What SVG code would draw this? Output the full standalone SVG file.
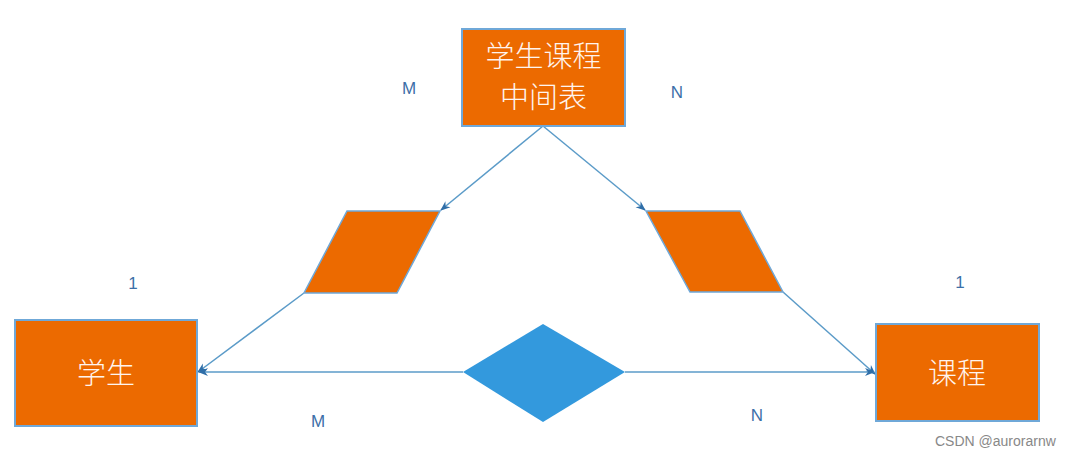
<svg xmlns="http://www.w3.org/2000/svg" width="1070" height="457" viewBox="0 0 1070 457">
<style>
.box{fill:#ec6a00;stroke:#6fa8d8;stroke-width:2}
.para{fill:#ec6a00;stroke:#6fa8d8;stroke-width:1.5}
.dia{fill:#3399dd}
.conn{stroke:#5b9bc8;stroke-width:1.5;fill:none;marker-end:url(#ah)}
.t{font-family:"Noto Sans CJK SC","Noto Sans",sans-serif;font-size:29px;font-weight:300;fill:#fff4ee;text-anchor:middle}
.lbl{font-family:"Liberation Sans",Arial,sans-serif;font-size:17px;fill:#3d6fa8;text-anchor:middle}
.wm{font-family:"Liberation Sans",Arial,sans-serif;font-size:14px;fill:#888888}
</style>
<defs>
<marker id="ah" viewBox="0 0 10 10" refX="9" refY="5" markerWidth="10" markerHeight="10" orient="auto" markerUnits="userSpaceOnUse">
<path d="M0,1 L10,5 L0,9 L3,5 Z" fill="#2f6ea8"/>
</marker>
</defs>
<rect width="1070" height="457" fill="#ffffff"/>
<g id="connectors">
<line class="conn" x1="543" y1="126" x2="441" y2="210"/>
<line class="conn" x1="543" y1="126" x2="645" y2="210"/>
<line class="conn" x1="304" y1="293" x2="198" y2="372"/>
<line class="conn" x1="783" y1="292" x2="875" y2="374"/>
<line class="conn" x1="463" y1="372" x2="199" y2="372"/>
<line class="conn" x1="625" y1="372" x2="874" y2="372"/>
</g>
<g id="node-middle">
<rect class="box" x="462" y="29" width="163" height="97"/>
<text class="t" x="543.5" y="67">学生课程</text>
<text class="t" x="543.5" y="108">中间表</text>
</g>
<g id="node-para-left">
<polygon class="para" points="347,211 440,211 397,293 304,293"/>
</g>
<g id="node-para-right">
<polygon class="para" points="646,211 740,211 783,292 690,292"/>
</g>
<g id="node-student">
<rect class="box" x="15" y="320" width="182" height="106"/>
<text class="t" x="106" y="384">学生</text>
</g>
<g id="node-course">
<rect class="box" x="876" y="324" width="163" height="97"/>
<text class="t" x="957" y="384">课程</text>
</g>
<g id="node-diamond">
<polygon class="dia" points="463,372 543,324 625,372 543,422"/>
</g>
<g id="labels">
<text class="lbl" x="409" y="94">M</text>
<text class="lbl" x="677" y="98">N</text>
<text class="lbl" x="133" y="289">1</text>
<text class="lbl" x="960" y="288">1</text>
<text class="lbl" x="318" y="427">M</text>
<text class="lbl" x="757" y="421">N</text>
<text class="wm" x="935" y="446">CSDN @aurorarnw</text>
</g>
</svg>
